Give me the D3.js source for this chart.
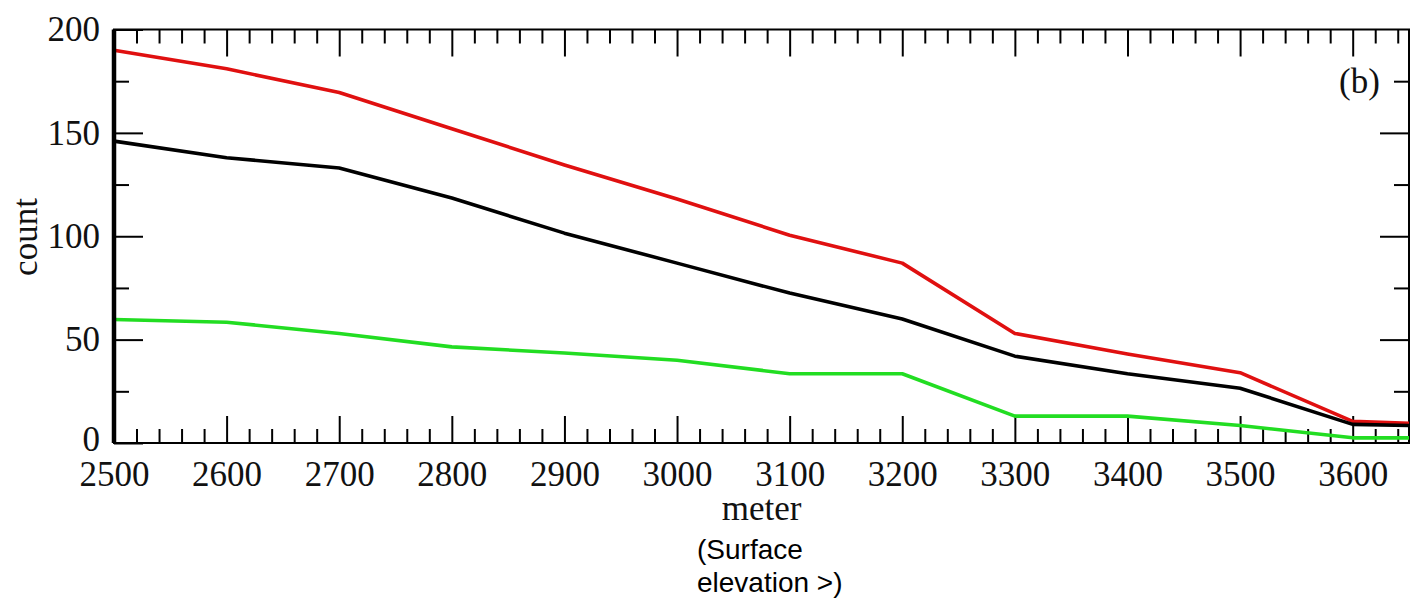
<!DOCTYPE html>
<html>
<head>
<meta charset="utf-8">
<script src="https://cdn.jsdelivr.net/npm/d3@7"></script>
<style>
  body { margin: 0; background: #fff; }
  svg { display: block; }
</style>
</head>
<body>
<div id="chart"></div>
<script>
// elevation bands (meter)
var meters = [2500, 2600, 2700, 2800, 2900, 3000, 3100, 3200, 3300, 3400, 3500, 3600, 3650];
// counts per band
var redCounts   = [190, 181, 169.5, 152, 134.5, 118, 100.5, 87, 53, 43, 34, 10.5, 9.5];
var blackCounts = [146, 138, 133, 118.5, 101.5, 87, 72.5, 60, 42, 33.5, 26.5, 9, 8.5];
var greenCounts = [59.7, 58.4, 53, 46.5, 43.5, 40, 33.5, 33.5, 13, 13, 8.5, 2.5, 2.5];

var xMajor = [2500, 2600, 2700, 2800, 2900, 3000, 3100, 3200, 3300, 3400, 3500, 3600];
var yMajor = [0, 50, 100, 150, 200];

var series = [
  {name: "red", values: redCounts, color: "#e01010"},
  {name: "black", values: blackCounts, color: "#000000"},
  {name: "green", values: greenCounts, color: "#22dd22"}
];

// set the dimensions and margins of the graph
var margin = {top: 29.5, right: 11, bottom: 162, left: 114},
    width = 1420 - margin.left - margin.right,
    height = 605 - margin.top - margin.bottom;

var svg = d3.select("#chart")
  .append("svg")
  .attr("width", 1420)
  .attr("height", 605);

var g = svg.append("g")
  .attr("transform", "translate(" + margin.left + "," + margin.top + ")");

var x = d3.scaleLinear().domain([2500, 3650]).range([0, width]);
var y = d3.scaleLinear().domain([0, 200]).range([height, 0]);

var xMinor = d3.range(2500, 3651, 20).filter(function(v) { return v % 100 !== 0; });
var yMinor = d3.range(25, 200, 50);

function styleAxis(sel) {
  sel.select(".domain").remove();
  sel.selectAll(".tick line").attr("stroke", "#000").attr("stroke-width", 2);
  sel.selectAll(".tick text")
    .attr("fill", "#111")
    .style("font-family", "'Liberation Serif', serif")
    .style("font-size", "35px");
}

// bottom axis, ticks point inward
g.append("g").attr("transform", "translate(0," + height + ")")
  .call(d3.axisBottom(x).tickValues(xMajor).tickSize(-27).tickPadding(18).tickFormat(d3.format("d")))
  .call(styleAxis);
g.append("g").attr("transform", "translate(0," + height + ")")
  .call(d3.axisBottom(x).tickValues(xMinor).tickSize(-14).tickFormat(""))
  .call(styleAxis);

// top axis
g.append("g")
  .call(d3.axisTop(x).tickValues(xMajor).tickSize(-27).tickFormat(""))
  .call(styleAxis);
g.append("g")
  .call(d3.axisTop(x).tickValues(xMinor).tickSize(-14).tickFormat(""))
  .call(styleAxis);

// left axis
var yAxis = g.append("g")
  .call(d3.axisLeft(y).tickValues(yMajor).tickSize(-29).tickPadding(14).tickFormat(d3.format("d")))
  .call(styleAxis);
// the 0 sits just above the 2500 label, as in the picture
yAxis.selectAll(".tick text").filter(function(d) { return d === 0; }).attr("dy", "0.2em");
g.append("g")
  .call(d3.axisLeft(y).tickValues(yMinor).tickSize(-15).tickFormat(""))
  .call(styleAxis);

// right axis
g.append("g").attr("transform", "translate(" + width + ",0)")
  .call(d3.axisRight(y).tickValues(yMajor.slice(1, 4)).tickSize(-29).tickFormat(""))
  .call(styleAxis);
g.append("g").attr("transform", "translate(" + width + ",0)")
  .call(d3.axisRight(y).tickValues(yMinor).tickSize(-15).tickFormat(""))
  .call(styleAxis);

// frame
g.append("rect")
  .attr("width", width).attr("height", height)
  .attr("fill", "none").attr("stroke", "#000").attr("stroke-width", 2);

// the lines
var line = d3.line()
  .x(function(d, i) { return x(meters[i]); })
  .y(function(d) { return y(d); });

g.selectAll(".series")
  .data(series)
  .enter()
  .append("path")
  .attr("class", "series")
  .attr("d", function(d) { return line(d.values); })
  .attr("fill", "none")
  .attr("stroke", function(d) { return d.color; })
  .attr("stroke-width", 3.6)
  .attr("stroke-linejoin", "round");

// thick left axis line
g.append("line")
  .attr("x1", 0).attr("x2", 0)
  .attr("y1", 0).attr("y2", height)
  .attr("stroke", "#000").attr("stroke-width", 4.5);

// panel tag
g.append("text")
  .attr("x", x(3500) + 99)
  .attr("y", 63)
  .style("font-family", "'Liberation Serif', serif")
  .style("font-size", "35px")
  .attr("fill", "#111")
  .text("(b)");

// axis labels
svg.append("text")
  .attr("text-anchor", "middle")
  .attr("x", margin.left + width / 2)
  .attr("y", 520)
  .style("font-family", "'Liberation Serif', serif")
  .style("font-size", "35px")
  .attr("fill", "#111")
  .text("meter");

svg.append("text")
  .attr("text-anchor", "middle")
  .attr("transform", "translate(37,237) rotate(-90)")
  .style("font-family", "'Liberation Serif', serif")
  .style("font-size", "35px")
  .attr("fill", "#111")
  .text("count");

var note = svg.append("text")
  .style("font-family", "'Liberation Sans', Arial, sans-serif")
  .style("font-size", "28px")
  .attr("fill", "#000");
note.append("tspan").attr("x", 697).attr("y", 559).text("(Surface");
note.append("tspan").attr("x", 697).attr("y", 592).text("elevation >)");
</script>
</body>
</html>
